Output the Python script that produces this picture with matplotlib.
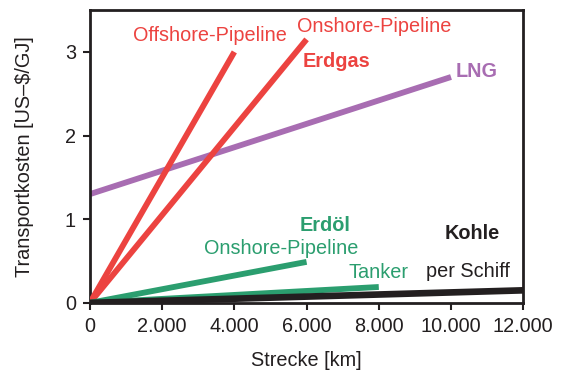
import matplotlib
matplotlib.use("Agg")
import matplotlib.pyplot as plt

plt.rcParams['font.family'] = ['Liberation Sans', 'DejaVu Sans']

# transport cost lines: distance (km) and cost (US-$/GJ) at start and end
offshore_gas_x = [0, 4000]
offshore_gas_y = [0, 3.0]
onshore_gas_x = [0, 6000]
onshore_gas_y = [0, 3.15]
lng_x = [0, 10000]
lng_y = [1.3, 2.7]
onshore_oil_x = [0, 6000]
onshore_oil_y = [0, 0.49]
tanker_x = [0, 8000]
tanker_y = [0, 0.19]
coal_x = [0, 12000]
coal_y = [0, 0.15]

x_ticks = [0, 2000, 4000, 6000, 8000, 10000, 12000]
x_tick_labels = ['0', '2.000', '4.000', '6.000', '8.000', '10.000', '12.000']
y_ticks = [0, 1, 2, 3]

red = '#ec4340'
purple = '#a86db2'
green = '#2b9e6f'
black = '#231f20'

fig = plt.figure(figsize=(5.62, 3.73), dpi=100)
ax = fig.add_axes([0.160, 0.188, 0.771, 0.785])

lw = 4.2
ax.plot(lng_x, lng_y, color=purple, lw=lw, solid_capstyle='butt', zorder=2)
ax.plot(offshore_gas_x, offshore_gas_y, color=red, lw=lw, solid_capstyle='butt', zorder=3)
ax.plot(onshore_gas_x, onshore_gas_y, color=red, lw=lw, solid_capstyle='butt', zorder=3)
ax.plot(onshore_oil_x, onshore_oil_y, color=green, lw=lw, solid_capstyle='butt', zorder=3)
ax.plot(tanker_x, tanker_y, color=green, lw=lw, solid_capstyle='butt', zorder=3)
ax.plot(coal_x, coal_y, color=black, lw=lw + 0.6, solid_capstyle='butt', zorder=4)

fs = 14.3
ax.text(3330, 3.20, 'Offshore-Pipeline', color=red, fontsize=fs, ha='center', va='center')
ax.text(7870, 3.30, 'Onshore-Pipeline', color=red, fontsize=fs, ha='center', va='center')
ax.text(6820, 2.89, 'Erdgas', color=red, fontsize=fs, fontweight='bold', ha='center', va='center')
ax.text(10720, 2.77, 'LNG', color=purple, fontsize=fs, fontweight='bold', ha='center', va='center')
ax.text(6520, 0.93, 'Erdöl', color=green, fontsize=fs, fontweight='bold', ha='center', va='center')
ax.text(5300, 0.65, 'Onshore-Pipeline', color=green, fontsize=fs, ha='center', va='center')
ax.text(8000, 0.365, 'Tanker', color=green, fontsize=fs, ha='center', va='center')
ax.text(10590, 0.83, 'Kohle', color=black, fontsize=fs, fontweight='bold', ha='center', va='center')
ax.text(10480, 0.37, 'per Schiff', color=black, fontsize=fs, ha='center', va='center')

ax.set_xlim(0, 12000)
ax.set_ylim(0, 3.5)
ax.set_xticks(x_ticks)
ax.set_xticklabels(x_tick_labels)
ax.set_yticks(y_ticks)
ax.tick_params(direction='out', length=5, width=1.5, pad=5, labelsize=fs,
               colors=black)

for s in ax.spines.values():
    s.set_linewidth(2)
    s.set_color(black)

ax.set_xlabel('Strecke [km]', fontsize=fs, color=black)
ax.set_ylabel('Transportkosten [US–$/GJ]', fontsize=fs, color=black)
ax.xaxis.set_label_coords(0.5, -0.165)
ax.yaxis.set_label_coords(-0.13, 0.5)

fig.savefig('out.png', dpi=100)
